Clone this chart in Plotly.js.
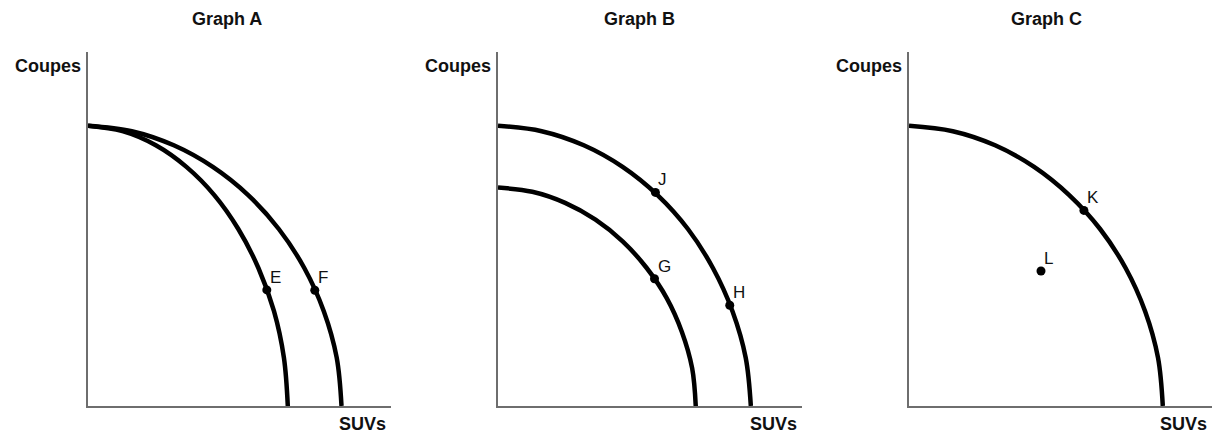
<!DOCTYPE html>
<html>
<head>
<meta charset="utf-8">
<script src="https://cdn.plot.ly/plotly-3.0.1.min.js"></script>
<style>html,body{margin:0;padding:0;background:#fff;}#chart{width:1212px;height:440px;}</style>
</head>
<body>
<div id="chart"></div>
<script>
// ---- Data ----
const panelTitles = ["Graph A", "Graph B", "Graph C"];
const yAxisLabel = "Coupes";
const xAxisLabel = "SUVs";

// Graph A
const aInnerX = [0, 1.15, 2.26, 3.28, 4.21, 5.01, 5.68, 6.20, 6.53, 6.66];
const aInnerY = [9.34, 9.16, 8.69, 7.97, 7.03, 5.90, 4.60, 3.16, 1.61, 0];
const aOuterX = [0, 1.46, 2.86, 4.16, 5.34, 6.36, 7.21, 7.86, 8.29, 8.45];
const aOuterY = [9.34, 9.16, 8.69, 7.97, 7.03, 5.90, 4.60, 3.16, 1.61, 0];
const aPointLabels = ["E", "F"];
const aPointX = [5.96, 7.56];
const aPointY = [3.87, 3.86];

// Graph B
const bOuterX = [0, 1.45, 2.85, 4.14, 5.30, 6.31, 7.14, 7.79, 8.23, 8.40];
const bOuterY = [9.34, 9.16, 8.69, 7.97, 7.03, 5.90, 4.60, 3.16, 1.61, 0];
const bInnerX = [0, 1.14, 2.23, 3.24, 4.15, 4.94, 5.61, 6.11, 6.45, 6.57];
const bInnerY = [7.28, 7.14, 6.77, 6.21, 5.48, 4.60, 3.59, 2.47, 1.26, 0];
const bPointLabels = ["J", "G", "H"];
const bPointX = [5.23, 5.20, 7.70];
const bPointY = [7.12, 4.24, 3.36];

// Graph C
const cCurveX = [0, 1.46, 2.87, 4.17, 5.34, 6.37, 7.22, 7.87, 8.30, 8.46];
const cCurveY = [9.34, 9.16, 8.69, 7.97, 7.03, 5.90, 4.60, 3.16, 1.61, 0];
const cPointLabels = ["K", "L"];
const cPointX = [5.83, 4.40];
const cPointY = [6.52, 4.50];

// ---- Build the figure ----
const lineStyle = {color: "#000", width: 4.5, shape: "spline", smoothing: 1};
function curve(x, y, ax) {
  return {x: x, y: y, type: "scatter", mode: "lines", line: lineStyle,
          xaxis: "x" + ax, yaxis: "y" + ax, hoverinfo: "skip", showlegend: false};
}
function pts(x, y, ax) {
  return {x: x, y: y, type: "scatter", mode: "markers",
          marker: {color: "#000", size: 9}, cliponaxis: false,
          xaxis: "x" + ax, yaxis: "y" + ax, hoverinfo: "skip", showlegend: false};
}

const data = [
  curve(aInnerX, aInnerY, ""), curve(aOuterX, aOuterY, ""), pts(aPointX, aPointY, ""),
  curve(bOuterX, bOuterY, "2"), curve(bInnerX, bInnerY, "2"), pts(bPointX, bPointY, "2"),
  curve(cCurveX, cCurveY, "3"), pts(cPointX, cPointY, "3")
];

const W = 1212, H = 440;
const xDomains = [[88 / W, 391 / W], [498 / W, 802 / W], [909 / W, 1]];
const yDomain = [(H - 406) / H, (H - 52) / H];

function xAxis(i) {
  return {domain: xDomains[i], range: [0, 10.1], anchor: "y" + (i ? i + 1 : ""),
          showline: true, linecolor: "#6e6e6e", linewidth: 2, showgrid: false,
          zeroline: false, showticklabels: false, ticks: "", fixedrange: true};
}
function yAxis(i) {
  return {domain: yDomain, range: [0, 11.8], anchor: "x" + (i ? i + 1 : ""),
          showline: true, linecolor: "#6e6e6e", linewidth: 2, showgrid: false,
          zeroline: false, showticklabels: false, ticks: "", fixedrange: true};
}

const boldFont = {family: "Liberation Sans, Arial, sans-serif", size: 18, color: "#111"};
const labelFont = {family: "Liberation Sans, Arial, sans-serif", size: 17, color: "#111"};

const annotations = [];
const suffixes = ["", "2", "3"];
const titleX = [139 / 303, 141 / 304, 137 / 303];
const allLabels = [aPointLabels, bPointLabels, cPointLabels];
const allX = [aPointX, bPointX, cPointX];
const allY = [aPointY, bPointY, cPointY];
for (let i = 0; i < 3; i++) {
  const s = suffixes[i];
  annotations.push({text: "<b>" + panelTitles[i] + "</b>", xref: "x" + s + " domain", yref: "paper",
    x: titleX[i], y: (H - 19) / H, xanchor: "center", yanchor: "middle", showarrow: false, font: boldFont});
  annotations.push({text: "<b>" + yAxisLabel + "</b>", xref: "x" + s + " domain", yref: "y" + s + " domain",
    x: 0, y: (406 - 66) / 354, xanchor: "right", yanchor: "middle", xshift: -5, showarrow: false, font: boldFont});
  annotations.push({text: "<b>" + xAxisLabel + "</b>", xref: "x" + s + " domain", yref: "paper",
    x: 1, y: (H - 424) / H, xanchor: "right", yanchor: "middle", xshift: -3, showarrow: false, font: boldFont});
  for (let k = 0; k < allLabels[i].length; k++) {
    annotations.push({text: allLabels[i][k], xref: "x" + s, yref: "y" + s,
      x: allX[i][k], y: allY[i][k], xanchor: "left", yanchor: "bottom",
      xshift: 1, yshift: 1, showarrow: false, font: labelFont});
  }
}

const layout = {
  width: W, height: H, margin: {l: 0, r: 0, t: 0, b: 0},
  paper_bgcolor: "#fff", plot_bgcolor: "#fff", showlegend: false,
  xaxis: xAxis(0), yaxis: yAxis(0),
  xaxis2: xAxis(1), yaxis2: yAxis(1),
  xaxis3: xAxis(2), yaxis3: yAxis(2),
  annotations: annotations
};

Plotly.newPlot("chart", data, layout, {staticPlot: true, displayModeBar: false});
</script>
</body>
</html>
